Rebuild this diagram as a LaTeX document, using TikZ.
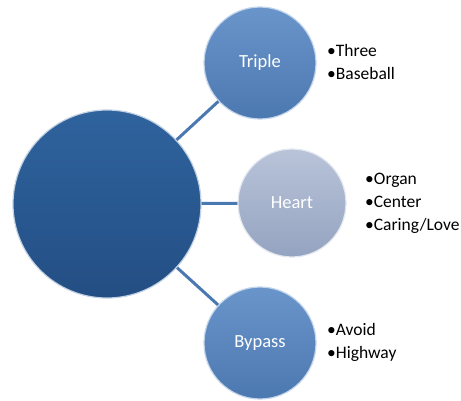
\documentclass[tikz,border=0pt]{standalone}
\usepackage{fontspec}
\setmainfont{Carlito}
\usetikzlibrary{shadows}
\definecolor{bigtop}{HTML}{2F639D}
\definecolor{bigbot}{HTML}{234E84}
\definecolor{medtop}{HTML}{6A95CB}
\definecolor{medbot}{HTML}{4C78B0}
\definecolor{grytop}{HTML}{B9C4D9}
\definecolor{grybot}{HTML}{94A3C0}
\definecolor{linkc}{HTML}{4A78B0}
\begin{document}
\begin{tikzpicture}[x=1pt,y=-1pt,
  bigc/.style={circle,minimum size=188pt,inner sep=0pt,top color=bigtop,bottom color=bigbot,draw=white!70!bigtop,line width=1.2pt},
  medc/.style={circle,minimum size=112pt,inner sep=0pt,top color=medtop,bottom color=medbot,draw=white!60!medtop,line width=1.2pt,text=white,font=\fontsize{18.5}{22}\selectfont},
  gryc/.style={circle,minimum size=108pt,inner sep=0pt,top color=grytop,bottom color=grybot,draw=white!60!grytop,line width=1.2pt,text=white,font=\fontsize{18.5}{22}\selectfont},
  link/.style={draw=linkc,line width=3pt},
  bul/.style={anchor=west,align=left,inner sep=0pt,font=\fontsize{17.5}{23}\selectfont,text=black}]
\useasboundingbox (0,0) rectangle (461,400);
\coordinate (cc) at (107,204);
\coordinate (tc) at (260,63);
\coordinate (hc) at (292,203);
\coordinate (bc) at (260,343);
\draw[link] (cc) -- (tc);
\draw[link] (cc) -- (hc);
\draw[link] (cc) -- (bc);
\node[bigc] (big) at (cc) {};
\node[medc] (triple) at (tc) {Triple};
\node[gryc] (heart) at (hc) {Heart};
\node[medc] (bypass) at (bc) {Bypass};
\node[bul] (tl) at (327,62) {•Three\\•Baseball};
\node[bul] (hl) at (365,203) {•Organ\\•Center\\•Caring/Love};
\node[bul] (bl) at (327,342) {•Avoid\\•Highway};
\end{tikzpicture}
\end{document}
